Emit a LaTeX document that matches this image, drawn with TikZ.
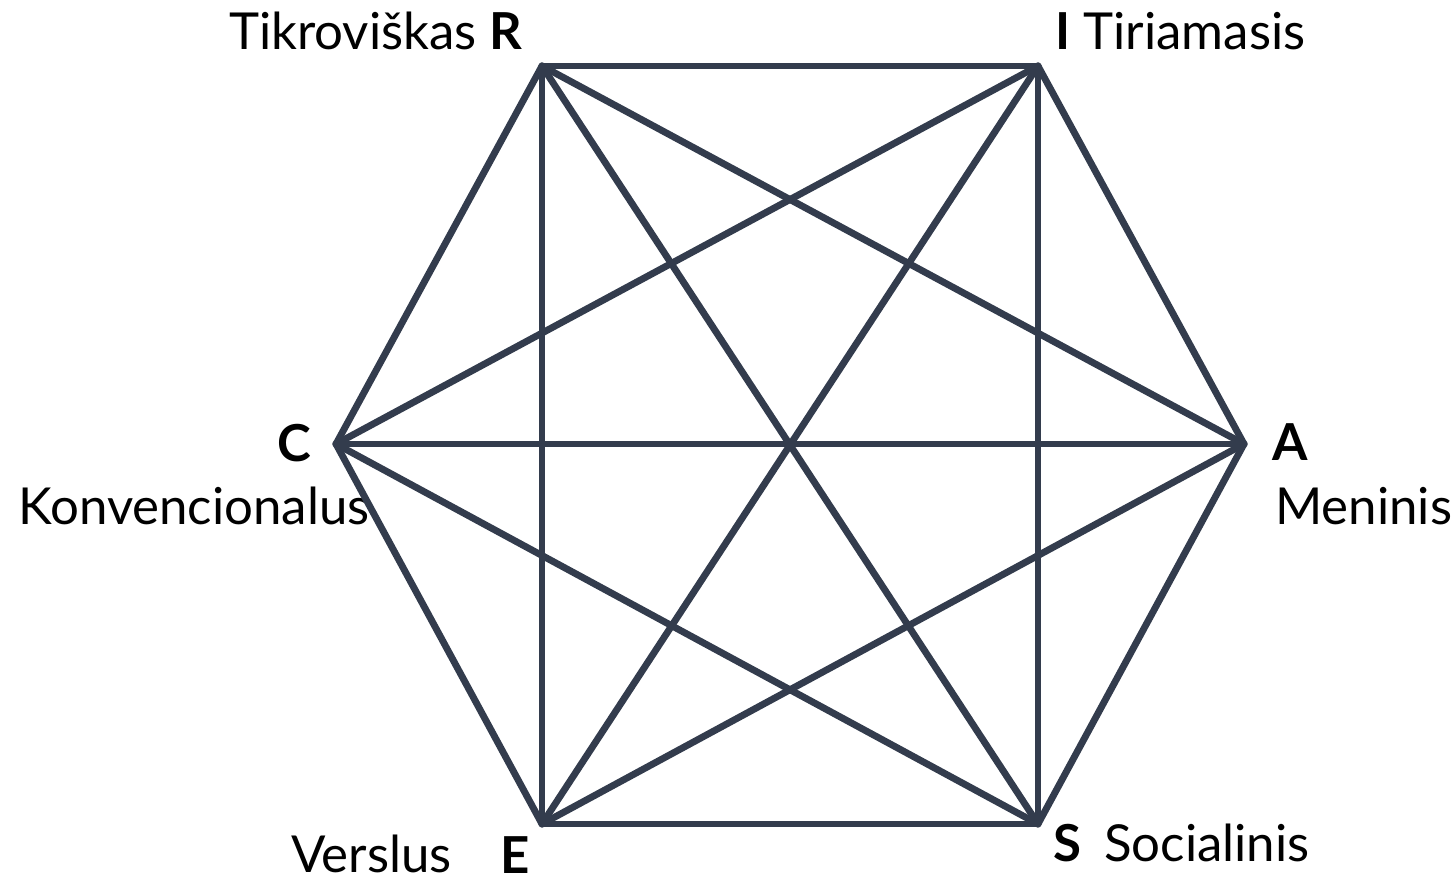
\documentclass[tikz,border=0pt]{standalone}
\usepackage{fontspec}
\setmainfont{Lato}
\definecolor{edgegray}{HTML}{333C4D}
\tikzset{
  edge/.style={draw=edgegray,line width=3.9pt,line cap=round,line join=round},
  lbl/.style={inner sep=0pt,font=\fontsize{29}{35}\selectfont}
}
\begin{document}
\begin{tikzpicture}
\useasboundingbox (0,0) rectangle (29.06,17.68);
\coordinate (R) at (10.84,16.36);
\coordinate (I) at (20.76,16.36);
\coordinate (A) at (24.88,8.80);
\coordinate (S) at (20.76,1.20);
\coordinate (E) at (10.84,1.20);
\coordinate (C) at (6.72,8.80);

\node[lbl,anchor=base east] (rlab) at (10.46,16.68) {Tikroviškas \textbf{R}};
\node[lbl,anchor=base west] (ilab) at (21.10,16.68) {\textbf{I} Tiriamasis};
\node[lbl,anchor=base west] (alab) at (25.44,8.46) {\textbf{A}};
\node[lbl,anchor=base west] (aname) at (25.50,7.18) {Meninis};
\node[lbl,anchor=base east] (clab) at (6.24,8.44) {\textbf{C}};
\node[lbl,anchor=base east] (cname) at (7.40,7.18) {Konvencionalus};
\node[lbl,anchor=base east] (ename) at (9.04,0.22) {Verslus};
\node[lbl,anchor=base west] (elab) at (10.00,0.20) {\textbf{E}};
\node[lbl,anchor=base west] (slab) at (21.06,0.44) {\textbf{S}\hspace{0.45em}Socialinis};

% hexagon
\draw[edge] (R) -- (I);
\draw[edge] (I) -- (A);
\draw[edge] (A) -- (S);
\draw[edge] (S) -- (E);
\draw[edge] (E) -- (C);
\draw[edge] (C) -- (R);
% diagonals
\draw[edge] (R) -- (A);
\draw[edge] (R) -- (S);
\draw[edge] (R) -- (E);
\draw[edge] (I) -- (S);
\draw[edge] (I) -- (E);
\draw[edge] (I) -- (C);
\draw[edge] (A) -- (E);
\draw[edge] (A) -- (C);
\draw[edge] (S) -- (C);
\end{tikzpicture}
\end{document}
